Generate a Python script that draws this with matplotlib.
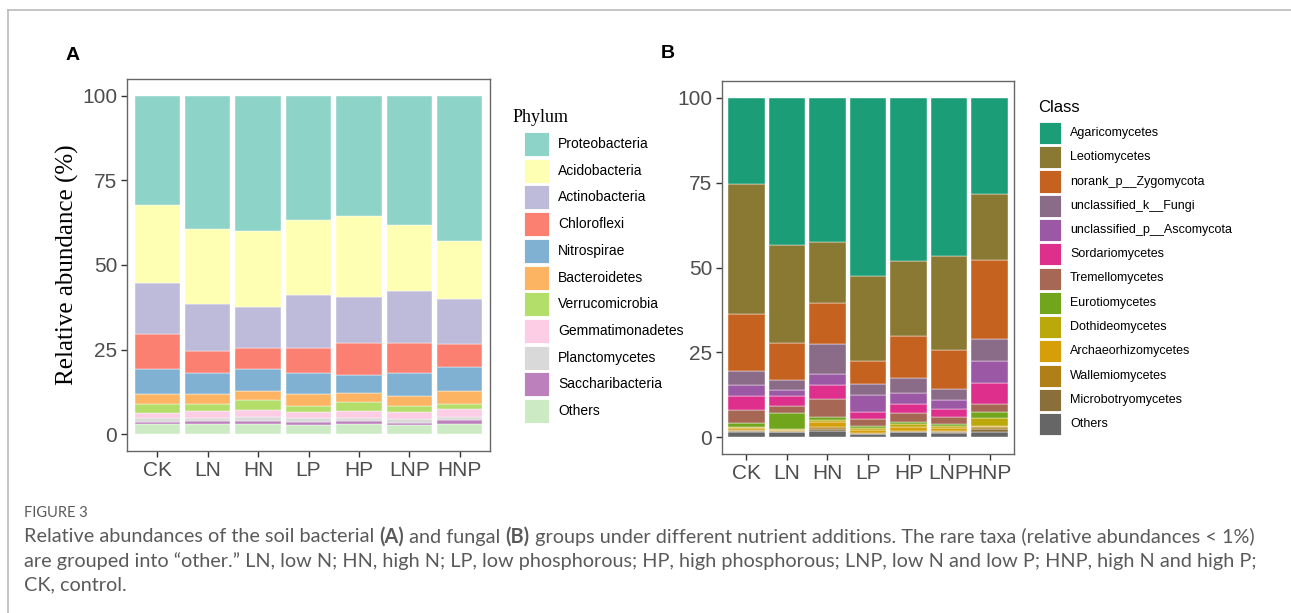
import matplotlib
matplotlib.use('Agg')
import matplotlib.pyplot as plt
from matplotlib.patches import Rectangle
from matplotlib.lines import Line2D
import numpy as np

plt.rcParams['font.family'] = ['Liberation Sans', 'DejaVu Sans']

groups = ['CK', 'LN', 'HN', 'LP', 'HP', 'LNP', 'HNP']

# panel A: bacterial phyla, % per group (legend order = top to bottom of stack)
phyla = ['Proteobacteria', 'Acidobacteria', 'Actinobacteria', 'Chloroflexi',
         'Nitrospirae', 'Bacteroidetes', 'Verrucomicrobia', 'Gemmatimonadetes',
         'Planctomycetes', 'Saccharibacteria', 'Others']
proteobacteria   = [32.2, 39.4, 40.0, 36.7, 35.4, 38.3, 43.0]
acidobacteria    = [23.2, 22.1, 22.4, 22.3, 24.0, 19.4, 17.0]
actinobacteria   = [14.9, 13.8, 12.2, 15.5, 13.6, 15.3, 13.3]
chloroflexi      = [10.5, 6.5, 6.3, 7.3, 9.5, 8.8, 7.0]
nitrospirae      = [7.2, 6.3, 6.4, 6.4, 5.4, 6.8, 7.1]
bacteroidetes    = [3.0, 3.0, 2.6, 3.5, 2.7, 3.0, 3.6]
verrucomicrobia  = [2.7, 2.1, 3.0, 1.8, 2.5, 2.0, 1.6]
gemmatimonadetes = [1.6, 1.9, 2.1, 1.8, 2.0, 2.0, 2.4]
planctomycetes   = [1.1, 1.0, 1.1, 1.2, 1.1, 1.1, 0.9]
saccharibacteria = [0.5, 1.0, 0.8, 0.7, 0.7, 0.7, 1.1]
others_a         = [3.1, 2.9, 3.1, 2.8, 3.1, 2.6, 3.0]
phyla_vals = [proteobacteria, acidobacteria, actinobacteria, chloroflexi,
              nitrospirae, bacteroidetes, verrucomicrobia, gemmatimonadetes,
              planctomycetes, saccharibacteria, others_a]
phyla_cols = ['#8DD3C7', '#FFFFB3', '#BEBADA', '#FB8072', '#80B1D3', '#FDB462',
              '#B3DE69', '#FCCDE5', '#D9D9D9', '#BC80BD', '#CCEBC5']

# panel B: fungal classes
classes = ['Agaricomycetes', 'Leotiomycetes', 'norank_p__Zygomycota',
           'unclassified_k__Fungi', 'unclassified_p__Ascomycota',
           'Sordariomycetes', 'Tremellomycetes', 'Eurotiomycetes',
           'Dothideomycetes', 'Archaeorhizomycetes', 'Wallemiomycetes',
           'Microbotryomycetes', 'Others']
agaricomycetes  = [25.4, 43.3, 42.6, 52.5, 48.1, 46.6, 28.2]
leotiomycetes   = [38.2, 29.1, 18.0, 25.2, 22.1, 27.7, 19.5]
zygomycota      = [16.9, 10.7, 11.9, 6.6, 12.5, 11.5, 23.5]
uncl_fungi      = [4.1, 3.1, 8.8, 3.2, 4.2, 3.4, 6.4]
uncl_ascomycota = [3.3, 1.6, 3.3, 5.1, 3.5, 2.5, 6.6]
sordariomycetes = [4.0, 3.0, 4.1, 2.1, 2.5, 2.3, 6.1]
tremellomycetes = [4.0, 2.0, 5.5, 2.1, 2.6, 2.1, 2.3]
eurotiomycetes  = [1.0, 4.8, 0.8, 0.5, 0.7, 0.6, 1.7]
dothideomycetes = [0.5, 0.2, 0.7, 0.5, 0.8, 0.6, 2.4]
archaeorhizo    = [0.6, 0.4, 1.3, 1.0, 1.1, 1.0, 0.4]
wallemiomycetes = [0.3, 0.2, 0.5, 0.2, 0.3, 0.3, 0.5]
microbotryo     = [0.2, 0.1, 0.7, 0.2, 0.2, 0.2, 0.8]
others_b        = [1.5, 1.5, 1.8, 0.8, 1.4, 1.2, 1.6]
class_vals = [agaricomycetes, leotiomycetes, zygomycota, uncl_fungi,
              uncl_ascomycota, sordariomycetes, tremellomycetes, eurotiomycetes,
              dothideomycetes, archaeorhizo, wallemiomycetes, microbotryo, others_b]
class_cols = ['#1B9E77', '#8A7933', '#C56220', '#8A6B88', '#9B58A5', '#DE2F8D',
              '#A66854', '#71A61C', '#BBA90B', '#D69E09', '#B17F18', '#8B6F3B',
              '#666666']

W, H = 1291, 613
fig = plt.figure(figsize=(W / 100, H / 100), dpi=100)


def px_axes(l, t, r, b):
    return fig.add_axes([l / W, 1 - b / H, (r - l) / W, (b - t) / H])


def stacked(ax, vals, cols):
    x = np.arange(1, len(groups) + 1)
    bottom = np.zeros(len(groups))
    # stack from the last legend entry upward
    for v, c in zip(vals[::-1], cols[::-1]):
        ax.bar(x, v, width=0.9, bottom=bottom, color=c, edgecolor='white',
               linewidth=0.3)
        bottom += np.array(v)
    ax.set_xlim(0.4, 7.6)
    ax.set_ylim(-5, 105)
    ax.set_xticks(x)
    ax.set_xticklabels(groups)
    ax.set_yticks([0, 25, 50, 75, 100])
    ax.tick_params(labelsize=15, labelcolor='#4D4D4D', color='#333333',
                   length=4, width=1, pad=3)
    for s in ax.spines.values():
        s.set_color('#666666')
        s.set_linewidth(1)


def legend(title, labels, cols, tx, ty, kx, top, kw, kh, step, fs, tfont):
    fig.text(tx / W, 1 - ty / H, title, va='center', ha='left', **tfont)
    for i, (lab, c) in enumerate(zip(labels, cols)):
        y0 = top + i * step
        fig.add_artist(Rectangle((kx / W, 1 - (y0 + kh) / H), kw / W, kh / H,
                                 facecolor=c, edgecolor='white', lw=0.6,
                                 transform=fig.transFigure))
        fig.text((kx + kw + 9) / W, 1 - (y0 + kh / 2) / H, lab, fontsize=fs,
                 va='center', ha='left', color='black')


axA = px_axes(127, 79, 490, 451)
stacked(axA, phyla_vals, phyla_cols)
axA.set_ylabel('Relative abundance (%)', family='Liberation Serif', fontsize=18,
               labelpad=2)

axB = px_axes(722, 81, 1014, 454)
stacked(axB, class_vals, class_cols)

legend('Phylum', phyla, phyla_cols, 513, 117, 524, 132, 25, 24, 26.7, 10,
       {'family': 'Liberation Serif', 'fontsize': 13})
legend('Class', classes, class_cols, 1038, 107, 1039, 122, 22, 22, 24.25, 9,
       {'fontsize': 12})

fig.text(73 / W, 1 - 55 / H, 'A', fontsize=14, weight='bold', ha='center', va='center')
fig.text(668 / W, 1 - 53 / H, 'B', fontsize=14, weight='bold', ha='center', va='center')

# page frame
fig.add_artist(Line2D([8 / W, 1], [1 - 10 / H, 1 - 10 / H], color='#BBBBBB', lw=1.2))
fig.add_artist(Line2D([8 / W, 8 / W], [0, 1 - 10 / H], color='#BBBBBB', lw=1.2))

# caption
cap_col = '#5A5A5A'
cap_font = 'Lato'
fig.text(24 / W, 1 - 513 / H, 'FIGURE 3', fontsize=10.5, color=cap_col,
         family=cap_font, va='center')

lines = [
    [('Relative abundances of the soil bacterial ', 'normal'), ('(A)', 'bold'),
     (' and fungal ', 'normal'), ('(B)', 'bold'),
     (' groups under different nutrient additions. The rare taxa (relative abundances < 1%)', 'normal')],
    [('are grouped into \u201cother.\u201d LN, low N; HN, high N; LP, low phosphorous; HP, high phosphorous; LNP, low N and low P; HNP, high N and high P;', 'normal')],
    [('CK, control.', 'normal')],
]
fig.canvas.draw()
rend = fig.canvas.get_renderer()
for i, parts in enumerate(lines):
    x = 24
    y = 537 + 24 * i
    for s, w in parts:
        t = fig.text(x / W, 1 - y / H, s, fontsize=14.3, color=cap_col,
                     family=cap_font, weight=w, va='center')
        bb = t.get_window_extent(renderer=rend)
        x += bb.width

fig.savefig('out.png', dpi=100)
